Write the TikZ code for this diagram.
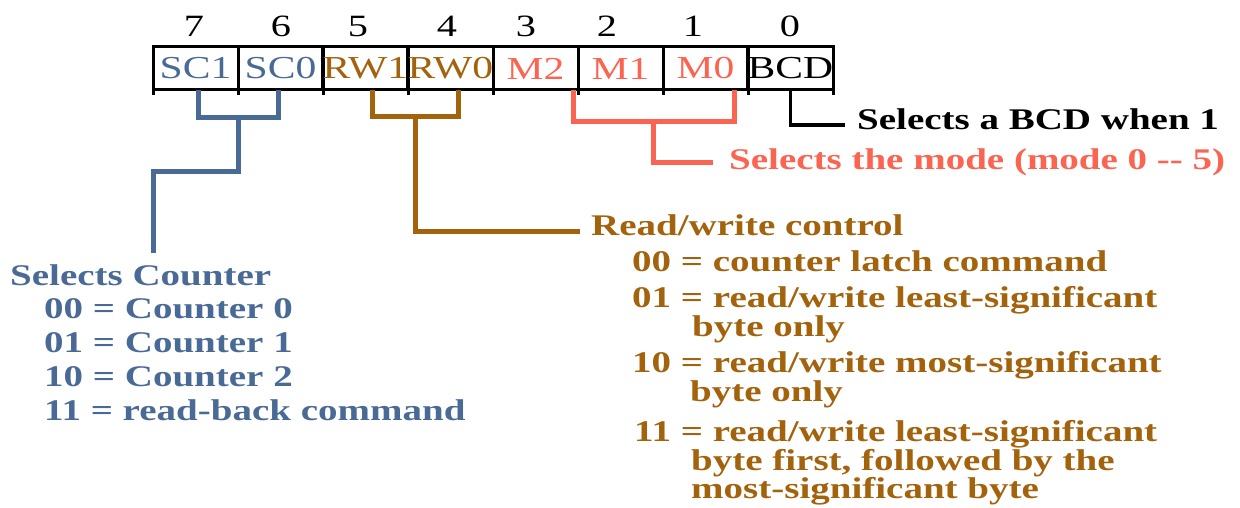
\documentclass[tikz,border=0pt]{standalone}
\usepackage{fontspec}
\setmainfont{Liberation Serif}[FakeStretch=1.3]
\definecolor{scblue}{HTML}{4A6A96}
\definecolor{rwbrown}{HTML}{A3620C}
\definecolor{mred}{HTML}{FA6450}
\begin{document}
\begin{tikzpicture}[x=1pt,y=-1pt,
  cell/.style={draw=black, line width=3pt, minimum width=85pt, minimum height=43pt, inner sep=0pt, font=\fontsize{32}{34}\selectfont},
  bitnum/.style={anchor=base, inner sep=0pt, font=\fontsize{31}{33}\selectfont},
  txt/.style={anchor=base west, inner sep=0pt, font=\bfseries\fontsize{30}{33}\selectfont},
  brk/.style={line width=5pt, line join=miter},
  tick/.style={line width=3pt}]
\useasboundingbox (0,0) rectangle (1240,508);
% register cells
\node[cell, text=scblue]  (c7) at (195.5,68.5) {SC1};
\node[cell, text=scblue]  (c6) at (280.5,68.5) {SC0};
\node[cell, text=rwbrown] (c5) at (365.5,68.5) {RW1};
\node[cell, text=rwbrown] (c4) at (450.5,68.5) {RW0};
\node[cell, text=mred]    (c3) at (535.5,68.5) {M2};
\node[cell, text=mred]    (c2) at (620.5,68.5) {M1};
\node[cell, text=mred]    (c1) at (705.5,68.5) {M0};
\node[cell, text=black]   (c0) at (790.5,68.5) {BCD};
\foreach \x in {153,238,323,408,493,578,663,748,833} \draw[tick] (\x,90) -- (\x,95);
% bit numbers
\node[bitnum] (n7) at (194,37) {7};
\node[bitnum] (n6) at (281,37) {6};
\node[bitnum] (n5) at (358,37) {5};
\node[bitnum] (n4) at (447,37) {4};
\node[bitnum] (n3) at (526,37) {3};
\node[bitnum] (n2) at (607,37) {2};
\node[bitnum] (n1) at (693,37) {1};
\node[bitnum] (n0) at (790,37) {0};
% labels
\node[txt, text=black] (bcdlab) at (857,130) {Selects a BCD when 1};
\node[txt, text=mred] (mlab) at (729,170) {Selects the mode (mode 0 -{}- 5)};
\node[txt, text=rwbrown] (rwlab) at (591,235) {Read/write control};
\node[txt, text=rwbrown] (rw00) at (632,271) {00 = counter latch command};
\node[txt, text=rwbrown] (rw01) at (632,307) {01 = read/write least-significant};
\node[txt, text=rwbrown] (rw01b) at (692,336) {byte only};
\node[txt, text=rwbrown] (rw10) at (632,372) {10 = read/write most-significant};
\node[txt, text=rwbrown] (rw10b) at (690,401) {byte only};
\node[txt, text=rwbrown] (rw11) at (634,441) {11 = read/write least-significant};
\node[txt, text=rwbrown] (rw11b) at (691,470) {byte first, followed by the};
\node[txt, text=rwbrown] (rw11c) at (691,498) {most-significant byte};
\node[txt, text=scblue] (sclab) at (10,285) {Selects Counter};
\node[txt, text=scblue] (sc00) at (44,318) {00 = Counter 0};
\node[txt, text=scblue] (sc01) at (44,352) {01 = Counter 1};
\node[txt, text=scblue] (sc10) at (44,386) {10 = Counter 2};
\node[txt, text=scblue] (sc11) at (44,420) {11 = read-back command};
% connectors
\coordinate (scend) at (153,253);
\draw[brk, scblue] (198,90) -- (198,118) -- (278,118) -- (278,90);
\draw[brk, scblue] (238,118) -- (238,172) -- (153,172) -- (scend);
\coordinate (rwend) at (580,231);
\draw[brk, rwbrown] (372,90) -- (372,117) -- (458,117) -- (458,90);
\draw[brk, rwbrown] (415,117) -- (415,231) -- (rwend);
\coordinate (mend) at (713,163);
\draw[brk, mred] (573,90) -- (573,122) -- (734,122) -- (734,90);
\draw[brk, mred] (653,122) -- (653,163) -- (mend);
\coordinate (bcdend) at (845,125);
\draw[line width=3.5pt, line join=miter, black] (c0.south) -- (790.5,125) -- (bcdend);
\end{tikzpicture}
\end{document}
